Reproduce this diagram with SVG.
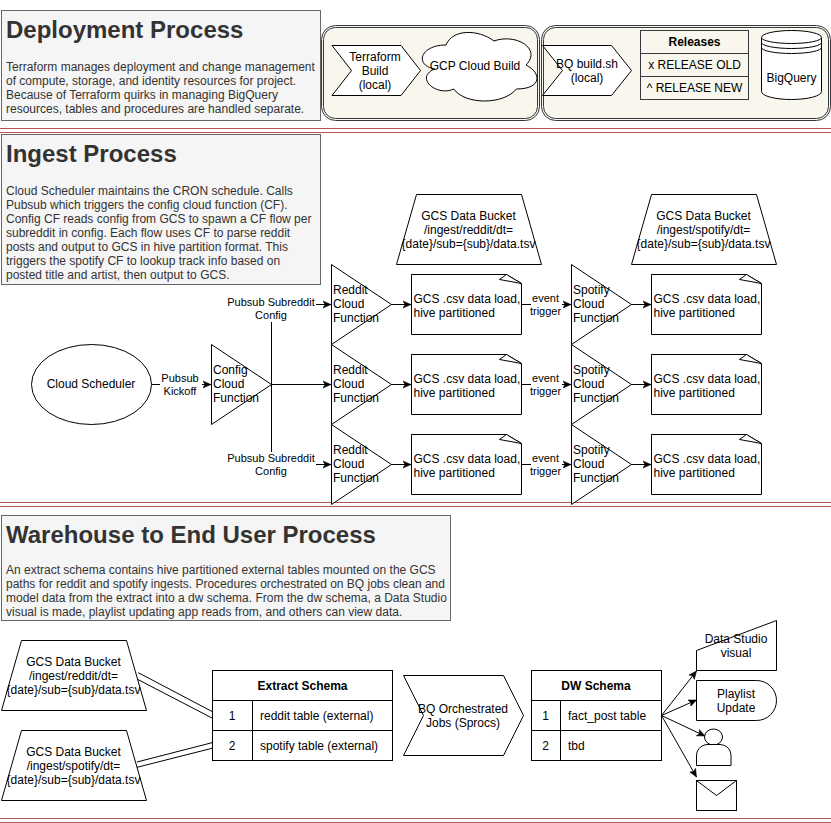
<svg xmlns="http://www.w3.org/2000/svg" xmlns:xlink="http://www.w3.org/1999/xlink" width="831" height="823" viewBox="0 0 831 823">
<style>
text{font-family:"Liberation Sans",Arial,Helvetica,sans-serif;font-size:12px;fill:#000}
.m{text-anchor:middle}
.b{font-weight:bold}
.h{font-size:24px;font-weight:bold;fill:#333}
.p{fill:#333}
.l{font-size:11px;text-anchor:middle}
.panel{fill:#f5f5f5;stroke:#666}
.s{fill:#fff;stroke:#000;stroke-width:1}
.t{fill:none;stroke:#000;stroke-width:1}
.g{fill:none;stroke:#36393d;stroke-width:1}
.o{fill:#f9f7ed;stroke:#36393d;stroke-width:1}
.r{stroke:#b85450;stroke-width:1;fill:none}
.c{fill:none;stroke:#000;stroke-width:1}
.a{marker-end:url(#arr)}
.w{fill:#fff;stroke:none}
</style>
<defs>
<marker id="arr" markerUnits="userSpaceOnUse" markerWidth="9" markerHeight="9" refX="8" refY="4.5" orient="auto">
<path d="M0,1 L8,4.5 L0,8 L2,4.5 Z" fill="#000" stroke="#000" stroke-width=".5"/>
</marker>
<g id="note"><path class="s" d="M0,0 H95 L110,9 V60 H0 Z"/><path class="s" d="M95,0 L88,5 L110,9 Z"/><text x="2" y="28">GCS .csv data load,</text><text x="2" y="42">hive partitioned</text></g>
</defs>

<g id="dividers">
<path class="r" d="M0,128.5 H831 M0,132.5 H831"/>
<path class="r" d="M0,502.5 H831 M0,506.5 H831"/>
<path class="r" d="M0,818.5 H831 M0,822.5 H831"/>
</g>

<g id="deployment-panel">
<rect class="panel" x="1.5" y="10.5" width="319" height="110"/>
<text class="h" x="6" y="38">Deployment Process</text>
<text class="p" x="6" y="71">Terraform manages deployment and change management</text>
<text class="p" x="6" y="85">of compute, storage, and identity resources for project.</text>
<text class="p" x="6" y="99">Because of Terraform quirks in managing BigQuery</text>
<text class="p" x="6" y="113">resources, tables and procedures are handled separate.</text>
</g>

<g id="deploy-container-1">
<rect class="o" x="321.5" y="25.5" width="218" height="95" rx="14"/>
<rect class="o" x="323.5" y="27.5" width="214" height="91" rx="12"/>
</g>
<g id="deploy-container-2">
<rect class="o" x="541.5" y="25.5" width="289" height="95" rx="14"/>
<rect class="o" x="543.5" y="27.5" width="285" height="91" rx="12"/>
</g>
<g id="terraform-build">
<path class="s" d="M332,45.5 H401 L420.5,70.5 L401,95.5 H332 L351.5,70.5 Z"/>
<text class="m" x="375" y="61">Terraform</text><text class="m" x="375" y="75">Build</text><text class="m" x="375" y="89">(local)</text>
</g>
<g id="gcp-cloud-build">
<path class="s" d="M446,45 C420.4,45 414,65 434.5,69 C414,77.8 437,97 453.7,89 C465.2,105 503.6,105 516.4,89 C542,89 542,73 526,65 C542,49 516.4,33 494,41 C478,29 452.4,29 446,45 Z"/>
<text class="m" x="475" y="70">GCP Cloud Build</text>
</g>
<g id="bq-build">
<path class="s" d="M542.5,45.5 H611.5 L631.5,70.5 L611.5,95.5 H542.5 L562.5,70.5 Z"/>
<text class="m" x="587" y="68">BQ build.sh</text><text class="m" x="587" y="82">(local)</text>
</g>
<g id="releases">
<rect class="g" x="640.5" y="30.5" width="108" height="69"/>
<path class="g" d="M640.5,53.5 H748.5 M640.5,76.5 H748.5"/>
<text class="m b" x="694.5" y="46">Releases</text>
<text class="m" x="694.5" y="69">x RELEASE OLD</text>
<text class="m" x="694.5" y="92">^ RELEASE NEW</text>
</g>
<g id="bigquery">
<path class="s" d="M761.5,37.5 A30,7 0 0 1 821.5,37.5 V91.5 A30,8 0 0 1 761.5,91.5 Z"/>
<path class="t" d="M761.5,37.5 A30,6 0 0 0 821.5,37.5 M761.5,42.5 A30,6 0 0 0 821.5,42.5 M761.5,47.5 A30,6 0 0 0 821.5,47.5"/>
<text class="m" x="791.5" y="82">BigQuery</text>
</g>

<g id="ingest-panel">
<rect class="panel" x="1.5" y="134.5" width="319" height="150"/>
<text class="h" x="6" y="162">Ingest Process</text>
<text class="p" x="6" y="195">Cloud Scheduler maintains the CRON schedule. Calls</text>
<text class="p" x="6" y="209">Pubsub which triggers the config cloud function (CF).</text>
<text class="p" x="6" y="223">Config CF reads config from GCS to spawn a CF flow per</text>
<text class="p" x="6" y="237">subreddit in config. Each flow uses CF to parse reddit</text>
<text class="p" x="6" y="251">posts and output to GCS in hive partition format. This</text>
<text class="p" x="6" y="265">triggers the spotify CF to lookup track info based on</text>
<text class="p" x="6" y="279">posted title and artist, then output to GCS.</text>
</g>

<g id="warehouse-panel">
<rect class="panel" x="1.5" y="515.5" width="449" height="105"/>
<text class="h" x="6" y="543">Warehouse to End User Process</text>
<text class="p" x="6" y="574">An extract schema contains hive partitioned external tables mounted on the GCS</text>
<text class="p" x="6" y="588">paths for reddit and spotify ingests. Procedures orchestrated on BQ jobs clean and</text>
<text class="p" x="6" y="602">model data from the extract into a dw schema. From the dw schema, a Data Studio</text>
<text class="p" x="6" y="616">visual is made, playlist updating app reads from, and others can view data.</text>
</g>

<g id="connectors">
<path class="c a" d="M151.5,384.5 H211"/>
<rect class="w" x="160" y="372" width="42" height="27"/>
<text class="l" x="180" y="382">Pubsub</text><text class="l" x="180" y="395">Kickoff</text>
<path class="c a" d="M271,384.5 H331"/>
<path class="c a" d="M271.5,384.5 V304.5 H331"/>
<path class="c a" d="M271.5,384.5 V464.5 H331"/>
<rect class="w" x="226" y="296" width="90" height="26"/>
<text class="l" x="271" y="306">Pubsub Subreddit</text><text class="l" x="271" y="319">Config</text>
<rect class="w" x="226" y="452" width="90" height="27"/>
<text class="l" x="271" y="462">Pubsub Subreddit</text><text class="l" x="271" y="475">Config</text>
<path class="c a" d="M391,304.5 H411"/><path class="c a" d="M391,384.5 H411"/><path class="c a" d="M391,464.5 H411"/>
<path class="c a" d="M521,304.5 H571"/><path class="c a" d="M521,384.5 H571"/><path class="c a" d="M521,464.5 H571"/>
<rect class="w" x="531" y="292" width="31" height="27"/><rect class="w" x="531" y="372" width="31" height="27"/><rect class="w" x="531" y="452" width="31" height="27"/>
<text class="l" x="545.5" y="302">event</text><text class="l" x="545.5" y="315">trigger</text>
<text class="l" x="545.5" y="382">event</text><text class="l" x="545.5" y="395">trigger</text>
<text class="l" x="545.5" y="462">event</text><text class="l" x="545.5" y="475">trigger</text>
<path class="c a" d="M631,304.5 H651"/><path class="c a" d="M631,384.5 H651"/><path class="c a" d="M631,464.5 H651"/>
<path class="c" d="M138.3,672.7 L213,712 M135,678 L212,718"/>
<path class="c" d="M137,762 L212,742.7 M137,767.3 L212,748.3"/>
<path class="c a" d="M661.5,715.5 L696.5,671"/>
<path class="c a" d="M661.5,715.5 L696.5,700"/>
<path class="c a" d="M661.5,715.5 L705,736"/>
<path class="c a" d="M661.5,715.5 L696.5,777"/>
</g>

<g id="cloud-scheduler">
<ellipse class="s" cx="91.5" cy="384.5" rx="60" ry="40"/>
<text class="m" x="91" y="388">Cloud Scheduler</text>
</g>
<g id="config-cf">
<path class="s" d="M211.5,344.5 L271.5,384.5 L211.5,424.5 Z"/>
<text x="213" y="374">Config</text><text x="213" y="388">Cloud</text><text x="213" y="402">Function</text>
</g>
<g id="reddit-cf-1"><path class="s" d="M331.5,264.5 L391.5,304.5 L331.5,344.5 Z"/><text x="333" y="294">Reddit</text><text x="333" y="308">Cloud</text><text x="333" y="322">Function</text></g>
<g id="reddit-cf-2"><path class="s" d="M331.5,344.5 L391.5,384.5 L331.5,424.5 Z"/><text x="333" y="374">Reddit</text><text x="333" y="388">Cloud</text><text x="333" y="402">Function</text></g>
<g id="reddit-cf-3"><path class="s" d="M331.5,424.5 L391.5,464.5 L331.5,504.5 Z"/><text x="333" y="454">Reddit</text><text x="333" y="468">Cloud</text><text x="333" y="482">Function</text></g>
<g id="spotify-cf-1"><path class="s" d="M571.5,264.5 L631.5,304.5 L571.5,344.5 Z"/><text x="573" y="294">Spotify</text><text x="573" y="308">Cloud</text><text x="573" y="322">Function</text></g>
<g id="spotify-cf-2"><path class="s" d="M571.5,344.5 L631.5,384.5 L571.5,424.5 Z"/><text x="573" y="374">Spotify</text><text x="573" y="388">Cloud</text><text x="573" y="402">Function</text></g>
<g id="spotify-cf-3"><path class="s" d="M571.5,424.5 L631.5,464.5 L571.5,504.5 Z"/><text x="573" y="454">Spotify</text><text x="573" y="468">Cloud</text><text x="573" y="482">Function</text></g>
<g id="gcs-load-r1"><use xlink:href="#note" href="#note" x="411.5" y="274.5"/></g>
<g id="gcs-load-r2"><use xlink:href="#note" href="#note" x="411.5" y="354.5"/></g>
<g id="gcs-load-r3"><use xlink:href="#note" href="#note" x="411.5" y="434.5"/></g>
<g id="gcs-load-s1"><use xlink:href="#note" href="#note" x="651.5" y="274.5"/></g>
<g id="gcs-load-s2"><use xlink:href="#note" href="#note" x="651.5" y="354.5"/></g>
<g id="gcs-load-s3"><use xlink:href="#note" href="#note" x="651.5" y="434.5"/></g>
<g id="bucket-reddit-top">
<path class="s" d="M416.5,194.5 H521.5 L541.5,264.5 H396.5 Z"/>
<text class="m" x="468.5" y="220">GCS Data Bucket</text><text class="m" x="468.5" y="234">/ingest/reddit/dt=</text><text class="m" x="468.5" y="248">{date}/sub={sub}/data.tsv</text>
</g>
<g id="bucket-spotify-top">
<path class="s" d="M651.5,194.5 H756.5 L776.5,264.5 H631.5 Z"/>
<text class="m" x="703.5" y="220">GCS Data Bucket</text><text class="m" x="703.5" y="234">/ingest/spotify/dt=</text><text class="m" x="703.5" y="248">{date}/sub={sub}/data.tsv</text>
</g>

<g id="bucket-reddit">
<path class="s" d="M21.5,640.5 H126.5 L146.5,710.5 H1.5 Z"/>
<text class="m" x="73.5" y="666">GCS Data Bucket</text><text class="m" x="73.5" y="680">/ingest/reddit/dt=</text><text class="m" x="73.5" y="694">{date}/sub={sub}/data.tsv</text>
</g>
<g id="bucket-spotify">
<path class="s" d="M21.5,730.5 H126.5 L146.5,800.5 H1.5 Z"/>
<text class="m" x="73.5" y="756">GCS Data Bucket</text><text class="m" x="73.5" y="770">/ingest/spotify/dt=</text><text class="m" x="73.5" y="784">{date}/sub={sub}/data.tsv</text>
</g>
<g id="extract-schema">
<rect class="s" x="212.5" y="670.5" width="180" height="90"/>
<path class="t" d="M212.5,700.5 H392.5 M212.5,730.5 H392.5 M252.5,700.5 V760.5"/>
<text class="m b" x="302.5" y="690">Extract Schema</text>
<text class="m" x="232" y="720">1</text><text x="260" y="720">reddit table (external)</text>
<text class="m" x="232" y="750">2</text><text x="260" y="750">spotify table (external)</text>
</g>
<g id="bq-jobs">
<path class="s" d="M403.5,675.5 H503.5 L523.5,715.5 L503.5,755.5 H403.5 L423.5,715.5 Z"/>
<text class="m" x="463" y="713">BQ Orchestrated</text><text class="m" x="463" y="727">Jobs (Sprocs)</text>
</g>
<g id="dw-schema">
<rect class="s" x="531.5" y="670.5" width="130" height="90"/>
<path class="t" d="M531.5,700.5 H661.5 M531.5,730.5 H661.5 M560.5,700.5 V760.5"/>
<text class="m b" x="596" y="690">DW Schema</text>
<text class="m" x="545.5" y="720">1</text><text x="568" y="720">fact_post table</text>
<text class="m" x="545.5" y="750">2</text><text x="568" y="750">tbd</text>
</g>
<g id="data-studio">
<path class="s" d="M696.5,650.5 L776.5,620.5 V670.5 H696.5 Z"/>
<text class="m" x="736" y="643">Data Studio</text><text class="m" x="736" y="657">visual</text>
</g>
<g id="playlist-update">
<path class="s" d="M696.5,680.5 H756.5 A20,20 0 0 1 756.5,720.5 H696.5 Z"/>
<text class="m" x="736" y="698">Playlist</text><text class="m" x="736" y="712">Update</text>
</g>
<g id="user">
<ellipse class="s" cx="713.5" cy="737" rx="9" ry="8"/>
<path class="s" d="M696.5,765.5 V756 C696.5,748 703,744.5 708,744.5 H719 C725,744.5 731,748 731,756 V765.5 Z"/>
</g>
<g id="email">
<rect class="s" x="696.5" y="780.5" width="40" height="30"/>
<path class="t" d="M696.5,780.5 L716.5,795.5 L736.5,780.5"/>
</g>
</svg>
